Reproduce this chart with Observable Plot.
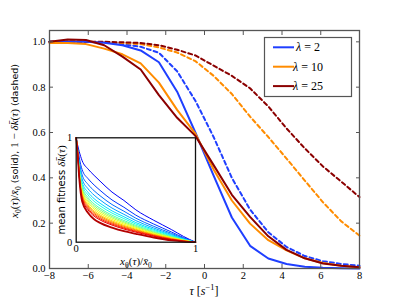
<!DOCTYPE html>
<html><head><meta charset="utf-8">
<script src="https://cdn.jsdelivr.net/npm/d3@7"></script>
<script src="https://cdn.jsdelivr.net/npm/@observablehq/plot@0.6"></script>
<style>
body{margin:0;background:#fff;}
#wrap{position:relative;width:399px;height:299px;overflow:hidden;}
#wrap svg{position:absolute;left:0;top:0;}
</style></head><body><div id="wrap"></div>
<script>
// ---- main chart data ----
const tau = [-8, -7.059, -6.118, -5.176, -4.235, -3.294, -2.353, -1.412, -0.471, 0.471, 1.412, 2.353, 3.294, 4.235, 5.176, 6.118, 7.059, 8];
const lambdas = ["2", "10", "25"];
const solid2  = [1.0, 1.0, 1.0, 0.996, 0.985, 0.962, 0.91, 0.78, 0.60, 0.41, 0.225, 0.10, 0.044, 0.02, 0.008, 0.003, 0.001, 0.0];
const solid10 = [0.995, 0.995, 0.99, 0.97, 0.945, 0.905, 0.82, 0.70, 0.595, 0.437, 0.30, 0.198, 0.125, 0.08, 0.045, 0.024, 0.012, 0.004];
const solid25 = [1.0, 1.01, 1.008, 0.985, 0.935, 0.878, 0.765, 0.665, 0.585, 0.456, 0.325, 0.228, 0.142, 0.082, 0.045, 0.022, 0.012, 0.006];
const dashed2  = [1.0, 1.0, 1.0, 0.997, 0.99, 0.978, 0.952, 0.87, 0.74, 0.58, 0.40, 0.26, 0.16, 0.095, 0.055, 0.032, 0.02, 0.012];
const dashed10 = [1.0, 1.0, 1.0, 0.998, 0.995, 0.99, 0.975, 0.953, 0.915, 0.85, 0.77, 0.67, 0.58, 0.485, 0.388, 0.292, 0.208, 0.145];
const dashed25 = [1.0, 1.0, 1.0, 1.0, 0.998, 0.995, 0.985, 0.965, 0.94, 0.895, 0.85, 0.795, 0.715, 0.618, 0.53, 0.45, 0.383, 0.315];
const xTicks = [-8, -6, -4, -2, 0, 2, 4, 6, 8];
const yTicks = [0, 0.2, 0.4, 0.6, 0.8, 1.0];

// ---- inset data (mean fitness vs x0/x̄0), one array per curve ----
const insetX = [0, 0.01, 0.025, 0.05, 0.1, 0.15, 0.2, 0.3, 0.4, 0.5, 0.65, 0.8, 0.9, 1];
const inset00 = [1, 0.94, 0.87, 0.78, 0.70, 0.64, 0.585, 0.48, 0.40, 0.31, 0.21, 0.12, 0.055, 0];
const inset01 = [1, 0.927, 0.815, 0.694, 0.608, 0.548, 0.497, 0.405, 0.335, 0.259, 0.174, 0.097, 0.044, 0];
const inset02 = [1, 0.919, 0.783, 0.644, 0.553, 0.493, 0.445, 0.361, 0.297, 0.230, 0.152, 0.084, 0.038, 0];
const inset03 = [1, 0.913, 0.758, 0.605, 0.511, 0.451, 0.405, 0.327, 0.267, 0.207, 0.136, 0.074, 0.033, 0];
const inset04 = [1, 0.908, 0.738, 0.573, 0.477, 0.417, 0.373, 0.300, 0.244, 0.188, 0.123, 0.065, 0.029, 0];
const inset05 = [1, 0.905, 0.723, 0.550, 0.452, 0.392, 0.349, 0.279, 0.226, 0.174, 0.113, 0.059, 0.026, 0];
const inset06 = [1, 0.901, 0.708, 0.527, 0.427, 0.367, 0.325, 0.259, 0.208, 0.161, 0.103, 0.053, 0.023, 0];
const inset07 = [1, 0.899, 0.698, 0.511, 0.410, 0.350, 0.309, 0.245, 0.196, 0.151, 0.096, 0.049, 0.021, 0];
const inset08 = [1, 0.896, 0.688, 0.495, 0.393, 0.333, 0.293, 0.232, 0.185, 0.142, 0.090, 0.045, 0.019, 0];
const inset09 = [1, 0.894, 0.678, 0.480, 0.377, 0.317, 0.277, 0.218, 0.173, 0.133, 0.083, 0.041, 0.017, 0];
const inset10 = [1, 0.891, 0.668, 0.464, 0.360, 0.300, 0.261, 0.205, 0.161, 0.124, 0.076, 0.037, 0.015, 0];
const inset11 = [1, 0.890, 0.660, 0.452, 0.347, 0.287, 0.249, 0.194, 0.152, 0.117, 0.071, 0.033, 0.014, 0];
const inset12 = [1, 0.888, 0.653, 0.441, 0.335, 0.275, 0.237, 0.184, 0.143, 0.110, 0.066, 0.030, 0.012, 0];
const inset13 = [1, 0.886, 0.645, 0.429, 0.322, 0.262, 0.225, 0.174, 0.135, 0.103, 0.062, 0.027, 0.011, 0];
const inset14 = [1, 0.884, 0.638, 0.417, 0.309, 0.249, 0.213, 0.164, 0.126, 0.096, 0.057, 0.024, 0.009, 0];
const inset15 = [1, 0.88, 0.62, 0.39, 0.28, 0.22, 0.185, 0.14, 0.105, 0.08, 0.045, 0.017, 0.006, 0];
const insetTicks = [0, 1];

// ---- styles ----
const lineColors = ["#1f3fff", "#ff8c00", "#8b0000"];
const SERIF = "Liberation Serif", SANS = "DejaVu Sans";
function jet(t){const c=v=>Math.round(255*Math.max(0,Math.min(1,v)));return `rgb(${c(1.5-Math.abs(4*t-3))},${c(1.5-Math.abs(4*t-2))},${c(1.5-Math.abs(4*t-1))})`;}

const solids = [solid2, solid10, solid25];
const dashes = [dashed2, dashed10, dashed25];
const rows = (ys) => tau.map((t, i) => ({tau: t, v: ys[i]}));

const lineMarks = [];
dashes.forEach((ys, k) => lineMarks.push(Plot.line(rows(ys), {x: "tau", y: "v", stroke: lineColors[k], strokeWidth: 2, strokeDasharray: "4,3"})));
solids.forEach((ys, k) => lineMarks.push(Plot.line(rows(ys), {x: "tau", y: "v", stroke: lineColors[k], strokeWidth: 2})));

const main = Plot.plot({
  width: 399, height: 299,
  marginLeft: 49, marginRight: 40, marginTop: 30, marginBottom: 31,
  x: {domain: [-8, 8]},
  y: {domain: [0, 1.05]},
  style: {fontFamily: SERIF, fontSize: "10.5px", background: "white", overflow: "visible"},
  marks: [
    ...lineMarks,
    Plot.frame({stroke: "#555", strokeWidth: 1.3}),
    Plot.axisX(xTicks, {anchor: "bottom", tickSize: -4, tickPadding: 7, label: null, stroke: "#555"}),
    Plot.axisX(xTicks, {anchor: "top", tickSize: -4, tickFormat: () => "", label: null, stroke: "#555"}),
    Plot.axisY(yTicks, {anchor: "left", tickSize: -4, tickPadding: 8, tickFormat: d3.format(".1f"), label: null, stroke: "#555"}),
    Plot.axisY(yTicks, {anchor: "right", tickSize: -4, tickFormat: () => "", label: null, stroke: "#555"})
  ]
});
document.getElementById("wrap").appendChild(main);

// rich text helper
function rich(g, parts, size) {
  let shift = 0;
  for (const p of parts) {
    const ts = g.append("tspan").text(p.t);
    const target = p.sub ? 0.3 * size : p.sup ? -0.4 * size : 0;
    if (target !== shift) { ts.attr("dy", target - shift); shift = target; }
    ts.attr("font-family", p.sans ? SANS : SERIF)
      .attr("font-style", p.it ? "italic" : "normal")
      .attr("font-size", p.fs || ((p.sub || p.sup) ? size * 0.7 : size));
  }
}
const svg = d3.select(main);

// y label
rich(svg.append("text").attr("transform", "translate(18,141) rotate(-90)").attr("text-anchor", "middle").attr("fill", "#000"), [
  {t: "x", it: 1}, {t: "0", sub: 1}, {t: "("}, {t: "τ", it: 1}, {t: ")/"}, {t: "x̄", it: 1}, {t: "0", sub: 1},
  {t: " (solid), ", sans: 1, fs: 9.5}, {t: "1 − "}, {t: "δk̄", it: 1}, {t: "("}, {t: "τ", it: 1}, {t: ")"},
  {t: " (dashed)", sans: 1, fs: 9.5}
], 11);
// x label
rich(svg.append("text").attr("x", 204).attr("y", 295).attr("text-anchor", "middle").attr("fill", "#000"), [
  {t: "τ", it: 1}, {t: " ["}, {t: "s", it: 1}, {t: "−1", sup: 1}, {t: "]"}
], 12);

// legend
const lg = svg.append("g");
lg.append("rect").attr("x", 264.5).attr("y", 37.5).attr("width", 87).attr("height", 59).attr("fill", "white").attr("stroke", "#555").attr("stroke-width", 1.2);
lambdas.forEach((l, i) => {
  const y = 47.3 + i * 19.4;
  lg.append("line").attr("x1", 273).attr("x2", 294).attr("y1", y).attr("y2", y).attr("stroke", lineColors[i]).attr("stroke-width", 2);
  rich(lg.append("text").attr("x", 308).attr("y", y + 4).attr("fill", "#000"), [{t: "λ", it: 1}, {t: " = " + l}], 12);
});

// ---- inset ----
const insetCurves = [inset00, inset01, inset02, inset03, inset04, inset05, inset06, inset07, inset08, inset09, inset10, inset11, inset12, inset13, inset14, inset15];
const insetMarks = insetCurves.map((ys, k) => Plot.line(insetX.map((x, i) => ({x, y: ys[i]})), {
  x: "x", y: "y", stroke: jet(0.12 + 0.83 * k / (insetCurves.length - 1)), strokeWidth: k === insetCurves.length - 1 ? 1.8 : 1, curve: "monotone-x"
}));
const inset = Plot.plot({
  width: 150, height: 140,
  marginLeft: 20.7, marginRight: 10, marginTop: 10.3, marginBottom: 25.3,
  x: {domain: [0, 1]}, y: {domain: [0, 1]},
  style: {fontFamily: SERIF, fontSize: "10.5px", background: "transparent", overflow: "visible"},
  marks: [
    Plot.frame({fill: "white"}),
    ...insetMarks,
    Plot.frame({stroke: "#111", strokeWidth: 1.3}),
    Plot.axisX(insetTicks, {anchor: "bottom", tickSize: 0, tickPadding: 2, tickFormat: d3.format("d"), label: null}),
    Plot.axisY(insetTicks, {anchor: "left", tickSize: 0, tickPadding: 4, tickFormat: d3.format("d"), label: null})
  ]
});
inset.style.left = "55px"; inset.style.top = "127px";
document.getElementById("wrap").appendChild(inset);

const isvg = d3.select(inset);
rich(isvg.append("text").attr("transform", "translate(10,63) rotate(-90)").attr("text-anchor", "middle").attr("fill", "#000"), [
  {t: "mean fitness ", sans: 1, fs: 10}, {t: "δk̄", it: 1}, {t: "("}, {t: "τ", it: 1}, {t: ")"}
], 11);
rich(isvg.append("text").attr("x", 81).attr("y", 138).attr("text-anchor", "middle").attr("fill", "#000"), [
  {t: "x", it: 1}, {t: "0", sub: 1}, {t: "("}, {t: "τ", it: 1}, {t: ")/"}, {t: "x̄", it: 1}, {t: "0", sub: 1}
], 11);
</script></body></html>
